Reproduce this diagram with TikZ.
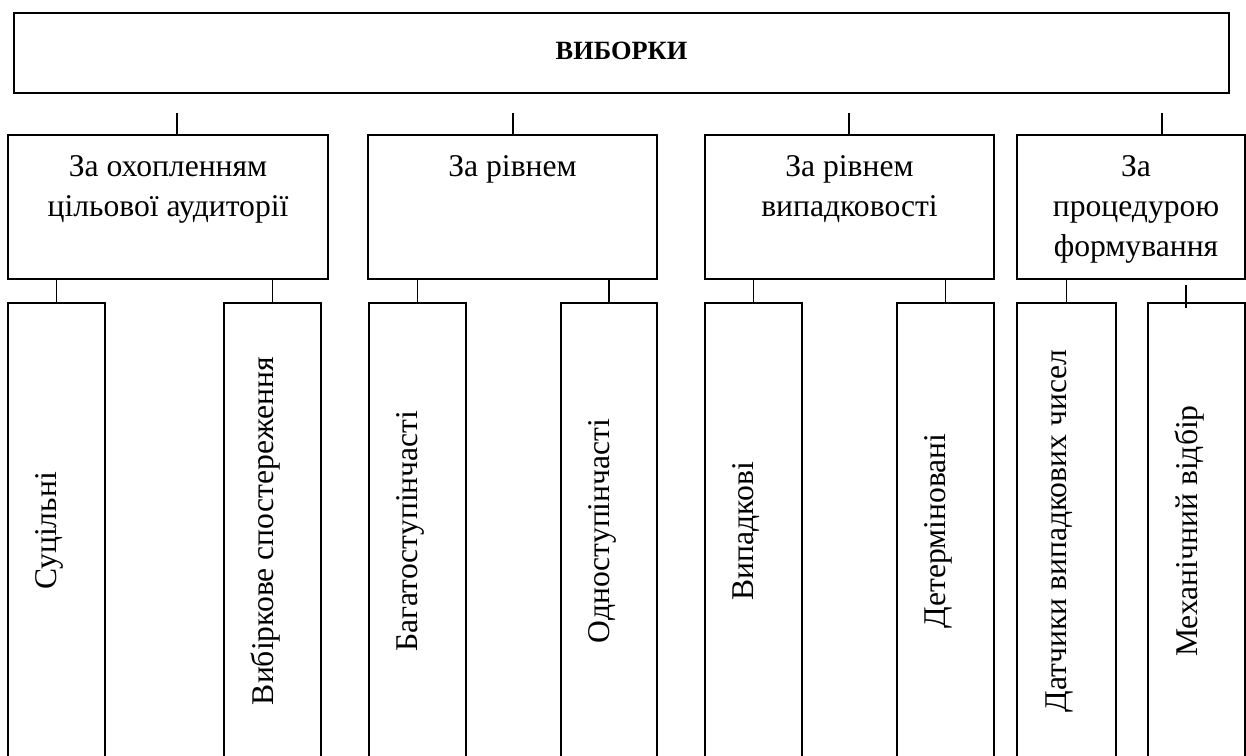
\documentclass[tikz,border=0pt]{standalone}
\usepackage{fontspec}
\setmainfont{Liberation Serif}
\usetikzlibrary{
  fit, % Kästen über Eckpunkte
  calc, % Verschiebung der Beschriftung
  positioning % Texte unter der Oberkante
}

\begin{document}
\begin{tikzpicture}[
    x=0.02cm, y=-0.02cm, % 1 Einheit = 1 Pixel
    box/.style={draw, line width=1.2pt, inner sep=0pt}, % Rahmen der Kästen
    link/.style={line width=0.9pt}, % Verbindungsstriche
    cattext/.style={align=center, inner sep=0pt, font=\fontsize{18}{22.8}\selectfont},
    vtext/.style={rotate=90, inner sep=0pt, font=\fontsize{18}{20}\selectfont},
  ]

  % Bildausschnitt
  \clip (0,0) rectangle (1246,756);

  % Oberster Kasten
  \node[box, fit={(14,13) (1229,93)}] (vib) {};
  \node[inner sep=0pt, font=\bfseries\fontsize{15}{18}\selectfont] (vib-t) at ($(vib.center)+(0,-2)$) {ВИБОРКИ};

  % Kriterien
  \foreach \n/\xa/\xb/\tx in {c1/8/328/177, c2/368/657/513, c3/705/994/849, c4/1017/1245/1162}{
    \node[box, fit={(\xa,135) (\xb,279)}] (\n) {};
    \coordinate (\n-top) at (\tx,113);
    \draw[link] (\n-top) -- (\n-top |- \n.north);
  }
  \node[cattext, below=0.42cm of c1.north] (c1-t) {За охопленням\\цільової аудиторії};
  \node[cattext, below=0.42cm of c2.north] (c2-t) {За рівнем};
  \node[cattext, below=0.42cm of c3.north] (c3-t) {За рівнем\\випадковості};
  \node[cattext, below=0.42cm of c4.north, xshift=0.1cm] (c4-t) {За\\процедурою\\формування};

  % Arten der Stichprobe
  \foreach \n/\xa/\xb/\txt in {
      s1/8/105/Суцільні,
      s2/224/321/Вибіркове спостереження,
      s3/369/466/Багатоступінчасті,
      s4/561/657/Одноступінчасті,
      s5/705/802/Випадкові,
      s6/897/994/Детерміновані,
      s7/1017/1116/Датчики випадкових чисел,
      s8/1148/1245/Механічний відбір}{
    \node[box, fit={(\xa,303) (\xb,759)}] (\n) {};
    \node[vtext] (\n-t) at ($(\n.center)+(-7,0)$) {\txt};
  }

  % Verbindungen
  \foreach \n/\p in {s1/c1, s2/c1, s3/c2, s4/c2, s5/c3, s6/c3, s7/c4}
    \draw[link] (\n.north) -- (\n.north |- \p.south);
  \coordinate (m8a) at (1186,285);
  \coordinate (m8b) at (1186,308);
  \draw[link] (m8a) -- (m8b);
\end{tikzpicture}
\end{document}
